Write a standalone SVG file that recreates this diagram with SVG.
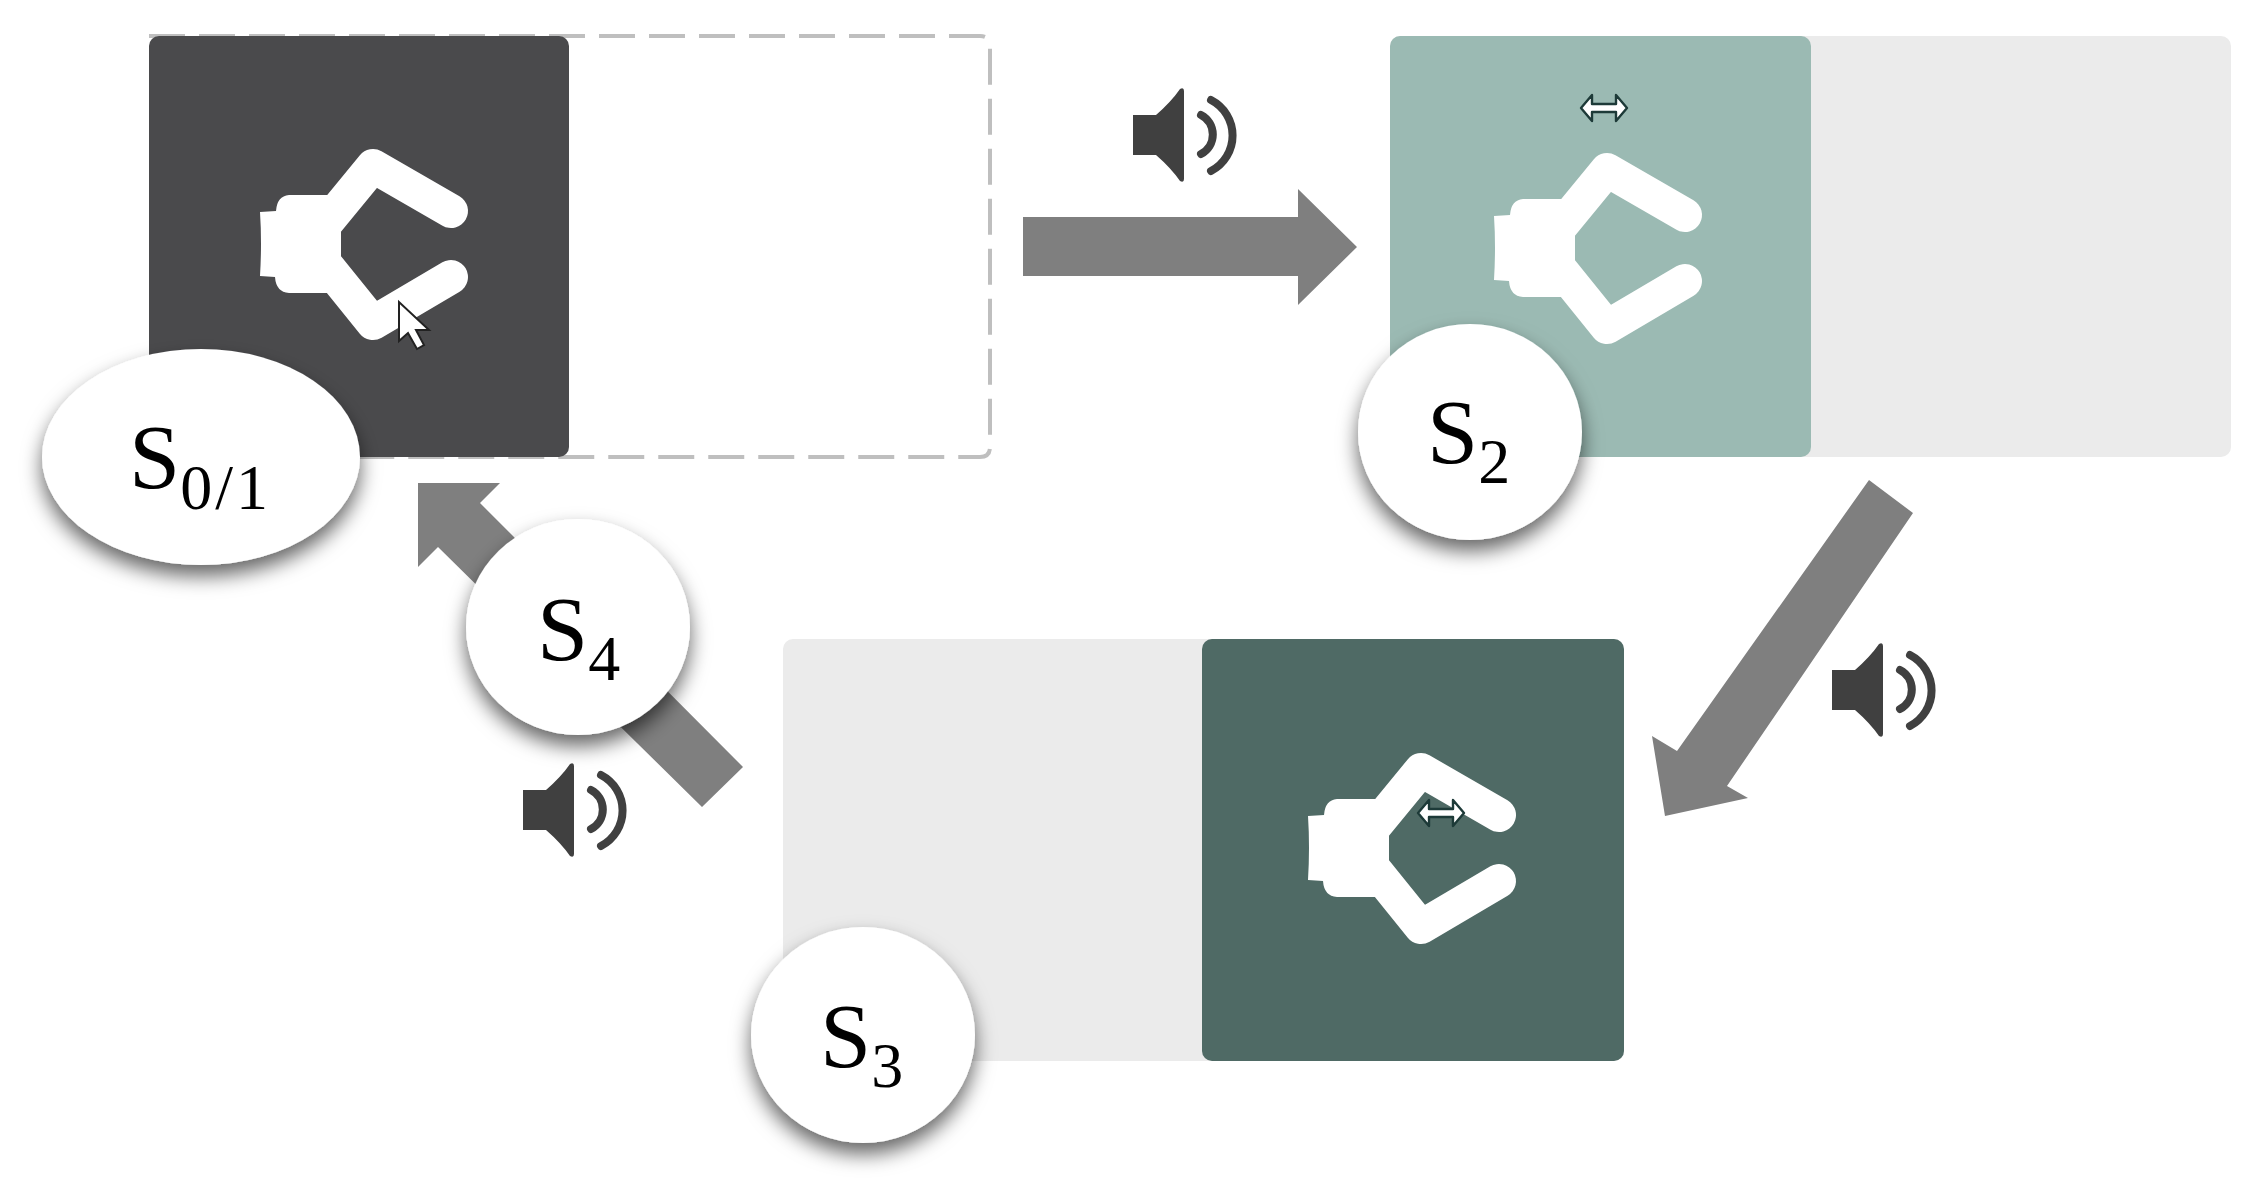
<svg xmlns="http://www.w3.org/2000/svg" width="2266" height="1195" viewBox="0 0 2266 1195">
<style>
.arrow{fill:#7f7f7f}
.bubble{fill:#fff;filter:url(#sh)}
.lbl{font-family:"Liberation Serif","DejaVu Serif",serif;fill:#000;font-size:92px}
.sub{font-size:64px}
.fing{fill:none;stroke:#fff;stroke-width:34;stroke-linecap:round;stroke-linejoin:round}
.body{fill:#fff}
.cone{fill:#404040}
.wave{fill:none;stroke:#404040;stroke-width:8;stroke-linecap:round}
.cur{fill:#fff;stroke:#222;stroke-width:2}
.res{fill:#fff;stroke:#1d3a38;stroke-width:2.4;stroke-linejoin:round}
</style>
<defs>
<filter id="sh" x="-30%" y="-30%" width="160%" height="170%">
<feDropShadow dx="0" dy="11" stdDeviation="10" flood-color="#000" flood-opacity=".6"/>
</filter>
<g id="gripper">
<path class="body" d="M58,116Q60,147 58,180L73,181Q74,196 87,197H139V99H87Q75,100 74,115Z"/>
<path class="fing" d="M249,115L171,70L125,126"/>
<path class="fing" d="M249,181L171,227L125,170"/>
<rect class="body" x="110" y="110" width="29" height="75"/>
</g>
<g id="speaker">
<path class="cone" d="M0,27H23Q38,14 47,1Q51,-1 51,3V91Q51,95 47,93Q38,80 23,67H0Z"/>
<path class="wave" d="M68,27A22,22 0 0 1 68,66"/>
<path class="wave" d="M78,12A40,40 0 0 1 78,83"/>
</g>
<path id="resize" d="M0,0L11,-13V-4H35V-13L46,0L35,13V4H11V13Z"/>
</defs>

<g id="node-s01">
<path d="M149,36H980Q990,36 990,46V447Q990,457 980,457H149" fill="#fff" stroke="#bfbfbf" stroke-width="4" stroke-dasharray="36 14"/>
<rect x="149" y="36" width="420" height="421" rx="10" fill="#4a4a4c"/>
<use href="#gripper" x="202" y="96"/>
<path class="cur" d="M399,302L399,341L408,333L417,349L424,345L416,330L429,330Z"/>
</g>
<g id="node-s2">
<rect x="1390" y="36" width="841" height="421" rx="10" fill="#ebebeb"/>
<rect x="1390" y="36" width="421" height="421" rx="10" fill="#9bbab3"/>
<use href="#gripper" x="1436" y="100"/>
<use href="#resize" class="res" x="1581" y="108"/>
</g>
<g id="node-s3">
<rect x="783" y="639" width="841" height="422" rx="10" fill="#ebebeb"/>
<rect x="1202" y="639" width="422" height="422" rx="10" fill="#4f6a65"/>
<use href="#gripper" x="1250" y="700"/>
<use href="#resize" class="res" x="1418" y="813"/>
</g>

<g id="connectors">
<path class="arrow" d="M1023,217H1298V189L1357,247L1298,305V276H1023Z"/>
<path class="arrow" d="M1869,480L1913,513L1727,786L1748,798L1665,816L1652,736L1677,751Z"/>
<path class="arrow" d="M743,767L702,807L438,547L418,567V483H500L480,503Z"/>
<use href="#speaker" x="1133" y="88"/>
<use href="#speaker" x="1832" y="643"/>
<use href="#speaker" x="523" y="763"/>
</g>

<g id="label-s01">
<ellipse class="bubble" cx="201" cy="457" rx="159" ry="108"/>
<text class="lbl" x="129" y="488">S<tspan class="sub" dy="21" letter-spacing="3">0/1</tspan></text>
</g>
<g id="label-s2">
<ellipse class="bubble" cx="1470" cy="432" rx="112" ry="108"/>
<text class="lbl" x="1427" y="463">S<tspan class="sub" dy="20">2</tspan></text>
</g>
<g id="label-s3">
<ellipse class="bubble" cx="863" cy="1035" rx="112" ry="108"/>
<text class="lbl" x="820" y="1067">S<tspan class="sub" dy="20">3</tspan></text>
</g>
<g id="label-s4">
<ellipse class="bubble" cx="578" cy="627" rx="112" ry="108"/>
<text class="lbl" x="537" y="660">S<tspan class="sub" dy="20">4</tspan></text>
</g>
</svg>
